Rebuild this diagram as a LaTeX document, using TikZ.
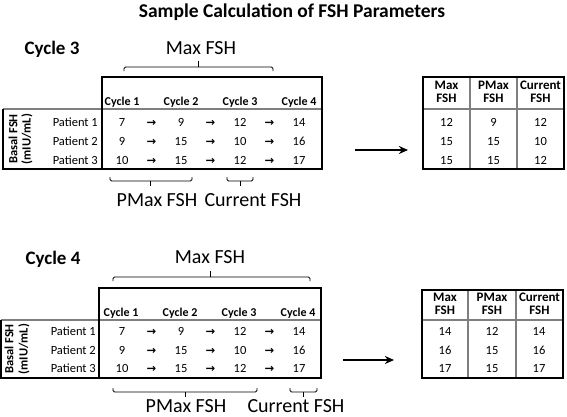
\documentclass[tikz,border=0pt]{standalone}
\usepackage{fontspec}
\setmainfont{Carlito}
\newfontfamily\arrowfont{DejaVu Sans}
\usetikzlibrary{arrows.meta}
\definecolor{Ink}{HTML}{000000}
\definecolor{RuleGray}{HTML}{7F7F7F}
\newcommand\fsz[2]{\fontsize{#1}{#2}\selectfont}
\tikzset{
  title/.style={inner sep=0pt, font=\fsz{19.5}{22}\bfseries},
  seclabel/.style={inner sep=0pt, font=\fsz{19}{22}\bfseries},
  grplabel/.style={inner sep=0pt, font=\fsz{20}{23}},
  cyclehead/.style={inner sep=0pt, font=\fsz{12}{14}\bfseries},
  rowhead/.style={inner sep=0pt, anchor=base east, font=\fsz{12.5}{14}},
  sidehead/.style={inner sep=0pt, rotate=90, font=\fsz{12.5}{14}\bfseries},
  cell/.style={inner sep=0pt, anchor=base, font=\fsz{12.5}{14}},
  stepsign/.style={inner sep=0pt, anchor=base, font=\fsz{11.5}{12}\arrowfont\bfseries},
  colhead/.style={inner sep=0pt, align=center, font=\fsz{13}{13.5}\bfseries},
  frame/.style={draw=Ink, line width=1.1pt},
  colline/.style={draw=RuleGray, line width=1.2pt},
  sepline/.style={draw=RuleGray, line width=1.8pt},
  bracket/.style={draw=Ink, line width=0.9pt, rounded corners=1.5pt},
  bigarrow/.style={-{Stealth[length=3.2mm,width=2.8mm]}, line width=2pt, draw=Ink}
}
\begin{document}
\begin{tikzpicture}[x=1pt,y=-1pt]
  \useasboundingbox[fill=white] (0,0) rectangle (567,416);
  \node[title] (ttl) at (292,12) {Sample Calculation of FSH Parameters};

  % Cycle 3
  \node[seclabel] (c3lbl) at (52,49) {Cycle 3};
  \node[grplabel] (c3max) at (201,48) {Max FSH};
  \draw[bracket] (124,71) -- (124,67) -- (273,67) -- (273,71);
  \draw[bracket] (198,67) -- (198,61);
  \draw[sepline] (3,109) -- (322,109);
  \draw[frame] (102,77) rectangle (322,169);
  \draw[frame] (102,169) -- (3,169) -- (3,109);
  \node[sidehead] (c3basal) at (13,139) {Basal FSH};
  \node[sidehead] (c3unit) at (27,139) {(mIU/mL)};
  \foreach \c in {1,...,4}
    \node[cyclehead] (c3h\c) at ({122+59*(\c-1)},102) {Cycle \c};
  \foreach \vals [count=\r] in {{7,9,12,14},{9,15,10,16},{10,15,12,17}} {
    \node[rowhead] (c3p\r) at (98,{107+19*\r}) {Patient \r};
    \foreach \v [count=\c] in \vals
      \node[cell] (c3v\r\c) at ({122+59*(\c-1)},{107+19*\r}) {\v};
    \foreach \c in {1,2,3}
      \node[stepsign] (c3s\r\c) at ({151.5+59*(\c-1)},{107+19*\r}) {→};
  }
  \draw[bracket] (110,177) -- (110,181) -- (192,181) -- (192,177);
  \draw[bracket] (150,181) -- (150,186);
  \draw[bracket] (227,177) -- (227,181) -- (253,181) -- (253,177);
  \draw[bracket] (240,181) -- (240,186);
  \node[grplabel] (c3pmax) at (157,200) {PMax FSH};
  \node[grplabel] (c3cur) at (253,200) {Current FSH};
  \coordinate (c3from) at (355,150);
  \coordinate (c3to) at (408,150);
  \draw[bigarrow] (c3from) -- (c3to);
  \draw[colline] (470,77) -- (470,169) (517,77) -- (517,169);
  \draw[sepline] (423,109) -- (564,109);
  \draw[frame] (423,77) rectangle (564,169);
  \node[colhead] (c3t1) at (446.5,92) {Max\\FSH};
  \node[colhead] (c3t2) at (493.5,92) {PMax\\FSH};
  \node[colhead] (c3t3) at (540.5,92) {Current\\FSH};
  \foreach \vals [count=\r] in {{12,9,12},{15,15,10},{15,15,12}}
    \foreach \v [count=\c] in \vals
      \node[cell] (c3r\r\c) at ({446.5+47*(\c-1)},{107+19*\r}) {\v};

  % Cycle 4
  \node[seclabel] (c4lbl) at (53,259) {Cycle 4};
  \node[grplabel] (c4max) at (210,257) {Max FSH};
  \draw[bracket] (113,281) -- (113,277) -- (310,277) -- (310,281);
  \draw[bracket] (210,277) -- (210,271);
  \draw[sepline] (1,320) -- (321,320);
  \draw[frame] (99,288) rectangle (321,378);
  \draw[frame] (99,378) -- (1,378) -- (1,320);
  \node[sidehead] (c4basal) at (9,349) {Basal FSH};
  \node[sidehead] (c4unit) at (24,349) {(mIU/mL)};
  \foreach \c in {1,...,4}
    \node[cyclehead] (c4h\c) at ({121+59*(\c-1)},313) {Cycle \c};
  \foreach \vals [count=\r] in {{7,9,12,14},{9,15,10,16},{10,15,12,17}} {
    \node[rowhead] (c4p\r) at (96,{317+18.5*\r}) {Patient \r};
    \foreach \v [count=\c] in \vals
      \node[cell] (c4v\r\c) at ({122+59*(\c-1)},{317+18.5*\r}) {\v};
    \foreach \c in {1,2,3}
      \node[stepsign] (c4s\r\c) at ({151.5+59*(\c-1)},{317+18.5*\r}) {→};
  }
  \draw[bracket] (113,388) -- (113,392) -- (257,392) -- (257,388);
  \draw[bracket] (185,392) -- (185,397);
  \draw[bracket] (290,388) -- (290,392) -- (317,392) -- (317,388);
  \draw[bracket] (303,392) -- (303,397);
  \node[grplabel] (c4pmax) at (186,406) {PMax FSH};
  \node[grplabel] (c4cur) at (296,406) {Current FSH};
  \coordinate (c4from) at (343,360);
  \coordinate (c4to) at (394,360);
  \draw[bigarrow] (c4from) -- (c4to);
  \draw[colline] (468,290) -- (468,378) (516,290) -- (516,378);
  \draw[sepline] (422,320) -- (563,320);
  \draw[frame] (422,290) rectangle (563,378);
  \node[colhead] (c4t1) at (445,304) {Max\\FSH};
  \node[colhead] (c4t2) at (492,304) {PMax\\FSH};
  \node[colhead] (c4t3) at (539.5,304) {Current\\FSH};
  \foreach \vals [count=\r] in {{14,12,14},{16,15,16},{17,15,17}}
    \foreach \v [count=\c] in \vals
      \node[cell] (c4r\r\c) at ({445+47*(\c-1)},{317+18.5*\r}) {\v};
\end{tikzpicture}
\end{document}
